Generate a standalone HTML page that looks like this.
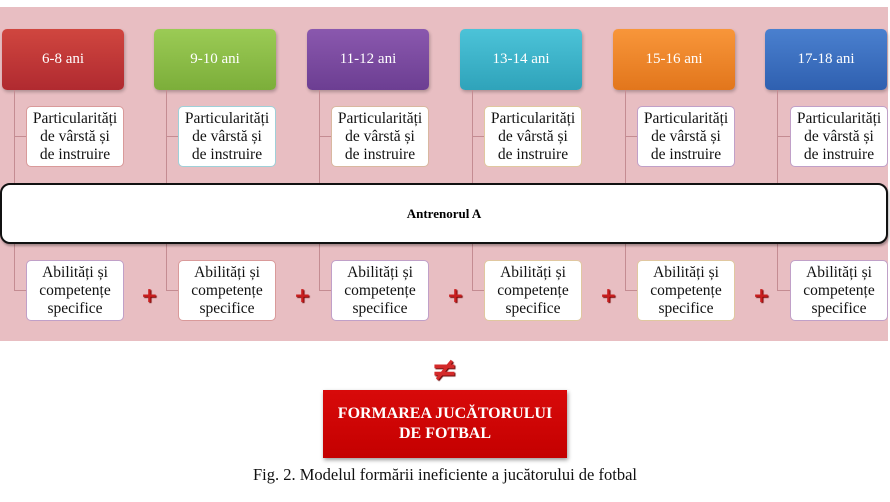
<!DOCTYPE html>
<html><head><meta charset="utf-8"><style>
body{margin:0;width:890px;height:502px;background:#fff;position:relative;overflow:hidden;font-family:"Liberation Serif",serif}
.a{position:absolute}
.bg{left:0;top:7px;width:888px;height:334px;background:#e8bec2}
.h{height:61px;width:122px;border-radius:5px;color:#fff;font-size:15px;display:flex;align-items:center;justify-content:center;box-shadow:1px 2px 3px rgba(0,0,0,.25)}
.b{width:98px;height:61px;box-sizing:border-box;padding:0 7px;background:#fff;border-radius:5px;font-size:15.5px;line-height:18px;text-align:center;display:flex;align-items:center;justify-content:center;color:#111}
.v{width:1px;background:#c48c92}
.hl{height:1px;background:#c48c92;width:13px}
.p{color:#c81e1e;font-size:20px;font-weight:bold;font-family:"DejaVu Sans",sans-serif;text-shadow:1px 1px 1px #700}
</style></head><body>
<div class="a bg"></div>

<div class="a h" style="left:2px;top:29px;background:linear-gradient(#d0463f,#b02a30)">6-8 ani</div>
<div class="a h" style="left:154px;top:29px;background:linear-gradient(#9bcb55,#7cae3a)">9-10 ani</div>
<div class="a h" style="left:307px;top:29px;background:linear-gradient(#8a58ae,#6c3e92)">11-12 ani</div>
<div class="a h" style="left:460px;top:29px;background:linear-gradient(#4cc3d8,#2fa3ba)">13-14 ani</div>
<div class="a h" style="left:613px;top:29px;background:linear-gradient(#f8963a,#e2761c)">15-16 ani</div>
<div class="a h" style="left:765px;top:29px;background:linear-gradient(#4a80cf,#2f60b0)">17-18 ani</div>

<div class="a v" style="left:14px;top:90px;height:200px"></div><div class="a hl" style="left:14px;top:136px"></div><div class="a hl" style="left:14px;top:290px"></div>
<div class="a v" style="left:166px;top:90px;height:200px"></div><div class="a hl" style="left:166px;top:136px"></div><div class="a hl" style="left:166px;top:290px"></div>
<div class="a v" style="left:319px;top:90px;height:200px"></div><div class="a hl" style="left:319px;top:136px"></div><div class="a hl" style="left:319px;top:290px"></div>
<div class="a v" style="left:472px;top:90px;height:200px"></div><div class="a hl" style="left:472px;top:136px"></div><div class="a hl" style="left:472px;top:290px"></div>
<div class="a v" style="left:625px;top:90px;height:200px"></div><div class="a hl" style="left:625px;top:136px"></div><div class="a hl" style="left:625px;top:290px"></div>
<div class="a v" style="left:777px;top:90px;height:200px"></div><div class="a hl" style="left:777px;top:136px"></div><div class="a hl" style="left:777px;top:290px"></div>

<div class="a b" style="left:26px;top:106px;border:1px solid #d99a9a">Particularități de vârstă și de instruire</div>
<div class="a b" style="left:178px;top:106px;border:1px solid #9fd0d8">Particularități de vârstă și de instruire</div>
<div class="a b" style="left:331px;top:106px;border:1px solid #d9b8a0">Particularități de vârstă și de instruire</div>
<div class="a b" style="left:484px;top:106px;border:1px solid #e0c8a0">Particularități de vârstă și de instruire</div>
<div class="a b" style="left:637px;top:106px;border:1px solid #c0a0c8">Particularități de vârstă și de instruire</div>
<div class="a b" style="left:790px;top:106px;border:1px solid #c0a0c8">Particularități de vârstă și de instruire</div>

<div class="a" style="left:0;top:183px;width:884px;height:57px;border:2px solid #111;border-radius:10px;background:#fff;display:flex;align-items:center;justify-content:center;font-size:13px;font-weight:bold;box-shadow:1px 2px 2px rgba(0,0,0,.3)">Antrenorul A</div>

<div class="a b" style="left:26px;top:260px;border:1px solid #c0a0c8">Abilități și competențe specifice</div>
<div class="a b" style="left:178px;top:260px;border:1px solid #d99a9a">Abilități și competențe specifice</div>
<div class="a b" style="left:331px;top:260px;border:1px solid #c0a0c8">Abilități și competențe specifice</div>
<div class="a b" style="left:484px;top:260px;border:1px solid #e0c8a0">Abilități și competențe specifice</div>
<div class="a b" style="left:637px;top:260px;border:1px solid #e0c8a0">Abilități și competențe specifice</div>
<div class="a b" style="left:790px;top:260px;border:1px solid #c0a0c8">Abilități și competențe specifice</div>

<div class="a p" style="left:141px;top:283px">+</div>
<div class="a p" style="left:294px;top:283px">+</div>
<div class="a p" style="left:447px;top:283px">+</div>
<div class="a p" style="left:600px;top:283px">+</div>
<div class="a p" style="left:753px;top:283px">+</div>

<div class="a" style="left:431px;top:350px;color:#d42a2a;font-size:32px;font-weight:bold;font-family:'DejaVu Sans',sans-serif;text-shadow:1px 1px 1px #600">≠</div>

<div class="a" style="left:323px;top:390px;width:244px;height:68px;background:linear-gradient(#d80a0a,#c40000);box-shadow:1px 2px 4px rgba(0,0,0,.4);color:#fff;font-weight:bold;font-size:16px;line-height:20px;text-align:center;display:flex;align-items:center;justify-content:center">FORMAREA JUCĂTORULUI<br>DE FOTBAL</div>

<div class="a" style="left:0;width:890px;top:465px;text-align:center;font-size:16.5px;color:#111">Fig. 2. Modelul formării ineficiente a jucătorului de fotbal</div>
</body></html>
